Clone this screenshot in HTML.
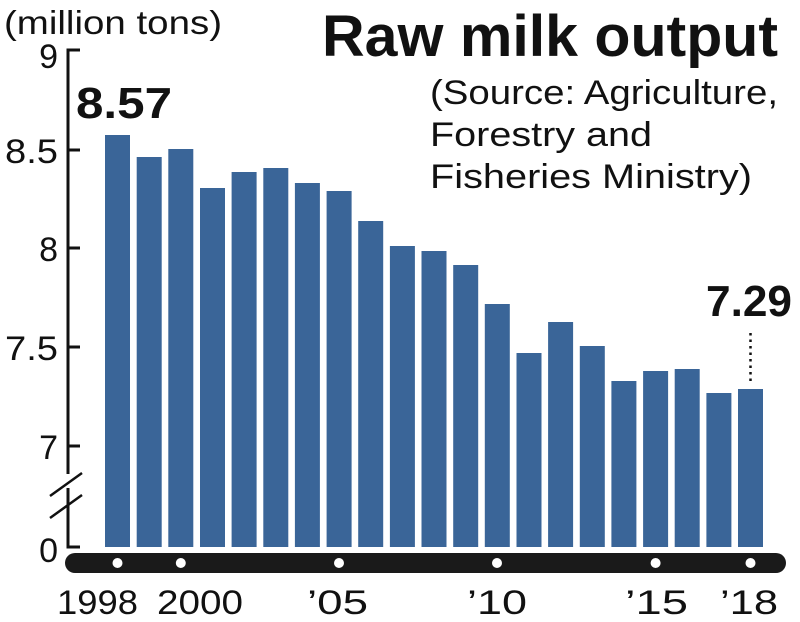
<!DOCTYPE html>
<html><head><style>
html,body{margin:0;padding:0;background:#fff;}
svg{display:block;font-family:"Liberation Sans",Arial,sans-serif;}
</style></head><body>
<svg width="800" height="622" viewBox="0 0 800 622">
<rect width="800" height="622" fill="#fff"/>
<text x="4" y="34" font-size="33" fill="#111" textLength="218" lengthAdjust="spacingAndGlyphs">(million tons)</text>
<text x="322" y="56" font-size="58" font-weight="bold" fill="#111" textLength="456" lengthAdjust="spacingAndGlyphs">Raw milk output</text>
<text x="430" y="104" font-size="34" fill="#111" textLength="348" lengthAdjust="spacingAndGlyphs">(Source: Agriculture,</text>
<text x="430" y="146" font-size="34" fill="#111" textLength="222" lengthAdjust="spacingAndGlyphs">Forestry and</text>
<text x="430" y="188" font-size="34" fill="#111" textLength="322" lengthAdjust="spacingAndGlyphs">Fisheries Ministry)</text>
<g stroke="#111" stroke-width="3" fill="none">
<path d="M80 50H68V474"/>
<path d="M68 488V547H80"/>
<path d="M68 150H80M68 248H80M68 347H80M68 446H80"/>
<path d="M50 496L82 473M50 518L82 495" stroke-width="2.5"/>
</g>
<g font-size="34" fill="#111" text-anchor="end">
<text x="58" y="68">9</text>
<text x="58" y="163" textLength="53" lengthAdjust="spacingAndGlyphs">8.5</text>
<text x="58" y="261">8</text>
<text x="58" y="360" textLength="53" lengthAdjust="spacingAndGlyphs">7.5</text>
<text x="58" y="459">7</text>
<text x="58" y="562">0</text>
</g>
<g fill="#3a6598">
<rect x="105" y="135" width="25" height="412"/>
<rect x="136.7" y="157" width="25" height="390"/>
<rect x="168.3" y="149" width="25" height="398"/>
<rect x="200" y="188" width="25" height="359"/>
<rect x="231.6" y="172" width="25" height="375"/>
<rect x="263.3" y="168" width="25" height="379"/>
<rect x="294.9" y="183" width="25" height="364"/>
<rect x="326.6" y="191" width="25" height="356"/>
<rect x="358.2" y="221" width="25" height="326"/>
<rect x="389.9" y="246" width="25" height="301"/>
<rect x="421.5" y="251" width="25" height="296"/>
<rect x="453.2" y="265" width="25" height="282"/>
<rect x="484.8" y="304" width="25" height="243"/>
<rect x="516.5" y="353" width="25" height="194"/>
<rect x="548.1" y="322" width="25" height="225"/>
<rect x="579.8" y="346" width="25" height="201"/>
<rect x="611.4" y="381" width="25" height="166"/>
<rect x="643.1" y="371" width="25" height="176"/>
<rect x="674.7" y="369" width="25" height="178"/>
<rect x="706.4" y="393" width="25" height="154"/>
<rect x="738" y="389" width="25" height="158"/>
</g>
<text x="76" y="118" font-size="44" font-weight="bold" fill="#111" textLength="96" lengthAdjust="spacingAndGlyphs">8.57</text>
<text x="706" y="316" font-size="44" font-weight="bold" fill="#111" textLength="86" lengthAdjust="spacingAndGlyphs">7.29</text>
<path d="M750.5 333V384" stroke="#111" stroke-width="2.5" stroke-dasharray="2.5,4"/>
<rect x="65" y="553" width="721" height="20" rx="10" fill="#1a1a1a"/>
<g fill="#fff">
<circle cx="117.5" cy="563" r="5"/>
<circle cx="180.8" cy="563" r="5"/>
<circle cx="339" cy="563" r="5"/>
<circle cx="497" cy="563" r="5"/>
<circle cx="655.6" cy="563" r="5"/>
<circle cx="750.5" cy="563" r="5"/>
</g>
<g font-size="34" fill="#111">
<text x="57" y="614" textLength="81" lengthAdjust="spacingAndGlyphs">1998</text>
<text x="157" y="614" textLength="86" lengthAdjust="spacingAndGlyphs">2000</text>
<text x="307" y="614" textLength="61" lengthAdjust="spacingAndGlyphs">’05</text>
<text x="467" y="614" textLength="60" lengthAdjust="spacingAndGlyphs">’10</text>
<text x="625" y="614" textLength="63" lengthAdjust="spacingAndGlyphs">’15</text>
<text x="720" y="614" textLength="58" lengthAdjust="spacingAndGlyphs">’18</text>
</g>
</svg>
</body></html>
